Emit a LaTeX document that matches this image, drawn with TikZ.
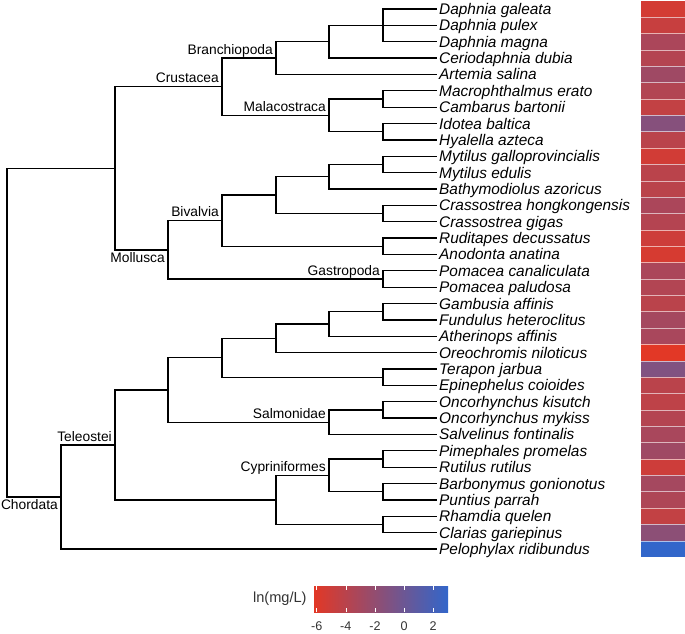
\documentclass[tikz,border=0pt]{standalone}
\usepackage{fontspec}
\setmainfont{Liberation Sans}
\usetikzlibrary{positioning}
\usetikzlibrary{calc}
\definecolor{hmred}{RGB}{226,56,38}
\definecolor{hmblue}{RGB}{50,102,202}
\tikzset{br/.style={line width=1.3pt}}
\tikzset{leaf/.style={anchor=west, inner xsep=2pt, inner ysep=0pt, text height=11pt, text depth=0pt, font=\fontsize{15.4}{18}\selectfont\itshape}}
\tikzset{clade/.style={inner xsep=3pt, inner ysep=3.6pt, text height=9.9pt, text depth=0pt, font=\fontsize{13.8}{16}\selectfont}}
\tikzset{sep/.style={draw=white, draw opacity=0.6, line width=0.6pt}}
\tikzset{ticklab/.style={font=\fontsize{12.6}{15}\selectfont, text=black!80, inner sep=0pt}}

\begin{document}
\begin{tikzpicture}[x=1pt,y=-1pt]
    \useasboundingbox (0,0) rectangle (685,633);

    % species
    \foreach \name [count=\i from 0] in {Daphnia galeata, Daphnia pulex, Daphnia magna,
      Ceriodaphnia dubia, Artemia salina, Macrophthalmus erato, Cambarus bartonii,
      Idotea baltica, Hyalella azteca, Mytilus galloprovincialis, Mytilus edulis,
      Bathymodiolus azoricus, Crassostrea hongkongensis, Crassostrea gigas,
      Ruditapes decussatus, Anodonta anatina, Pomacea canaliculata, Pomacea paludosa,
      Gambusia affinis, Fundulus heteroclitus, Atherinops affinis, Oreochromis niloticus,
      Terapon jarbua, Epinephelus coioides, Oncorhynchus kisutch, Oncorhynchus mykiss,
      Salvelinus fontinalis, Pimephales promelas, Rutilus rutilus, Barbonymus gonionotus,
      Puntius parrah, Rhamdia quelen, Clarias gariepinus, Pelophylax ridibundus}
      \node[leaf] (s\i) at (437, {9+16.364*\i}) {\name};

    % inner nodes
    \coordinate (daph) at (383,25.4);
    \coordinate (cerio) at (329,41.7);
    \coordinate (branch) at (276,58.1);
    \coordinate (macro) at (383,99.0);
    \coordinate (idot) at (383,131.7);
    \coordinate (mala) at (329,115.4);
    \coordinate (crust) at (222,86.7);
    \coordinate (myti) at (383,164.5);
    \coordinate (bathy) at (329,176.7);
    \coordinate (crass) at (383,213.5);
    \coordinate (bivup) at (276,195.1);
    \coordinate (rudi) at (383,246.3);
    \coordinate (biva) at (222,220.7);
    \coordinate (gast) at (383,279.0);
    \coordinate (moll) at (168,249.9);
    \coordinate (prot) at (115,168.3);
    \coordinate (gamb) at (383,311.7);
    \coordinate (ather) at (329,324.0);
    \coordinate (oreo) at (276,338.3);
    \coordinate (tera) at (383,377.2);
    \coordinate (perc) at (222,357.8);
    \coordinate (onco) at (383,409.9);
    \coordinate (salm) at (329,422.2);
    \coordinate (acan) at (168,390.0);
    \coordinate (pime) at (383,459.0);
    \coordinate (barb) at (383,491.7);
    \coordinate (cypr) at (329,475.4);
    \coordinate (rham) at (383,524.5);
    \coordinate (otop) at (276,499.9);
    \coordinate (tele) at (115,445.0);
    \coordinate (chor) at (61,497.0);
    \coordinate (root) at (7,332.6);

    \foreach \a/\b in {daph/s0, daph/s1, daph/s2, cerio/daph, cerio/s3,
      branch/cerio, branch/s4, macro/s5, macro/s6, idot/s7, idot/s8,
      mala/macro, mala/idot, crust/branch, crust/mala,
      myti/s9, myti/s10, bathy/myti, bathy/s11, crass/s12, crass/s13,
      bivup/bathy, bivup/crass, rudi/s14, rudi/s15, biva/bivup, biva/rudi,
      gast/s16, gast/s17, moll/biva, moll/gast, prot/crust, prot/moll,
      gamb/s18, gamb/s19, ather/gamb, ather/s20, oreo/ather, oreo/s21,
      tera/s22, tera/s23, perc/oreo, perc/tera, onco/s24, onco/s25,
      salm/onco, salm/s26, acan/perc, acan/salm, pime/s27, pime/s28,
      barb/s29, barb/s30, cypr/pime, cypr/barb, rham/s31, rham/s32,
      otop/cypr, otop/rham, tele/acan, tele/otop, chor/tele, chor/s33,
      root/prot, root/chor}
      \draw[br] (\a) |- (\b);

    \node[clade, above left] (lbranch) at (branch) {Branchiopoda};
    \node[clade, above left] (lcrust) at (crust) {Crustacea};
    \node[clade, above left] (lmala) at (mala) {Malacostraca};
    \node[clade, above left] (lbiva) at (biva) {Bivalvia};
    \node[clade, above left] (lgast) at (gast) {Gastropoda};
    \node[clade, below left, inner ysep=2.6pt] (lmoll) at (moll) {Mollusca};
    \node[clade, above left] (ltele) at (tele) {Teleostei};
    \node[clade, above left] (lsalm) at (salm) {Salmonidae};
    \node[clade, above left] (lcypr) at (cypr) {Cypriniformes};
    \node[clade, below left, inner ysep=2.6pt] (lchor) at (chor) {Chordata};

    % heat map
    \foreach \v [count=\i from 0] in {-5.4,-4.8,-3.3,-3.8,-2.7,-3.7,-4.5,-1.4,-4.1,-5.3,
      -4.1,-4.1,-3.3,-3.8,-5.1,-5.6,-3.3,-3.7,-4.1,-3.0,-3.2,-6.2,-1.1,-4.1,-4.3,
      -3.8,-3.2,-2.7,-5.1,-3.0,-3.5,-4.5,-1.7,3.0} {
      \pgfmathsetmacro\p{(\v+6.2)/9.2*100}
      \fill[hmblue!\p!hmred] (641,{9+16.364*(\i-0.5)}) rectangle (685,{9+16.364*(\i+0.5)});
    }
    \foreach \i in {1,...,33}
      \draw[sep] (641,{9+16.364*(\i-0.5)}) -- (685,{9+16.364*(\i-0.5)});

    % legend
    \node[minimum width=134pt, minimum height=26pt, inner sep=0pt,
      left color=hmred, right color=hmblue] (bar) at (381,599) {};
    \node[left=7pt of bar, inner sep=0pt, font=\fontsize{14.6}{17}\selectfont,
      text=black!80] (ltitle) {ln(mg/L)};
    \foreach \t [count=\k] in {-6,-4,-2,0,2} {
      \draw[white, line width=0.6pt] ($(bar.north west)+({(\t+6.2)*14.565},0)$) -- +(0,4.5);
      \draw[white, line width=0.6pt] ($(bar.south west)+({(\t+6.2)*14.565},0)$) -- +(0,-4.5);
      \node[ticklab] (tick\k) at ($(bar.south west)+({(\t+6.2)*14.565},13.5)$) {\t};
    }
\end{tikzpicture}
\end{document}
